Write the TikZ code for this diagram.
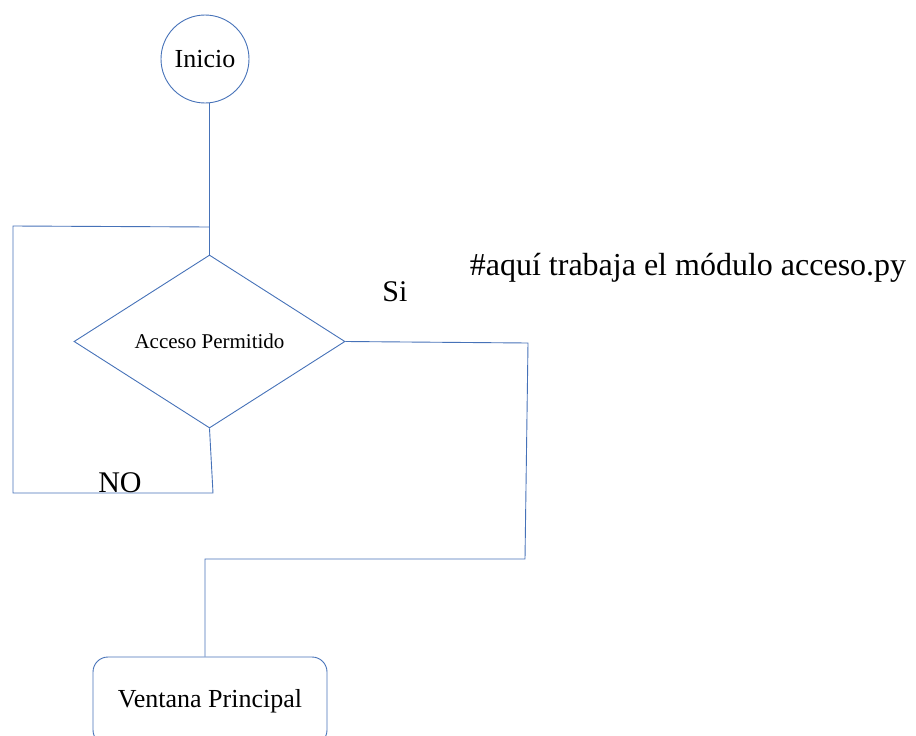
\documentclass[tikz,border=0pt]{standalone}
\usepackage{fontspec}
\setmainfont{Liberation Serif}
\usetikzlibrary{shapes.geometric}
\definecolor{flow}{RGB}{70,114,184}
\begin{document}
\begin{tikzpicture}[x=1pt,y=-1pt,line width=0.9pt,
  conn/.style={draw=flow},
  startnode/.style={circle,draw=flow,minimum size=88pt,inner sep=0pt,font=\fontsize{26}{30}\selectfont},
  decision/.style={diamond,draw=flow,minimum width=271pt,minimum height=173pt,inner sep=0pt,font=\fontsize{21}{24}\selectfont},
  endbox/.style={rectangle,rounded corners=15pt,draw=flow,minimum width=234pt,minimum height=88pt,inner sep=0pt,font=\fontsize{26}{30}\selectfont},
  lbl/.style={inner sep=0pt,font=\fontsize{30}{34}\selectfont},
  note/.style={inner sep=0pt,font=\fontsize{32}{36}\selectfont}]
\useasboundingbox (0,0) rectangle (916,736);
\node[startnode] (inicio) at (205,59) {Inicio};
\node[decision] (acceso) at (209.5,341.5) {Acceso Permitido};
\node[endbox] (ventana) at (210,701) {Ventana Principal};
\coordinate (j) at (209.5,227);
\coordinate (lt) at (13,226);
\coordinate (lb) at (13,493);
\coordinate (rb) at (213,493);
\coordinate (r1) at (528,343);
\coordinate (r2) at (525,559);
\coordinate (r3) at (205,559);
\draw[conn] (acceso.north |- inicio.south) -- (acceso.north);
\draw[conn] (j) -- (lt) -- (lb) -- (rb) -- (acceso.south);
\draw[conn] (acceso.east) -- (r1) -- (r2) -- (r3) -- (r3 |- ventana.north);
\node[lbl] (si) at (395,292) {Si};
\node[lbl] (no) at (120,483) {NO};
\node[note] (coment) at (688,268) {\#aquí trabaja el módulo acceso.py};
\end{tikzpicture}
\end{document}
